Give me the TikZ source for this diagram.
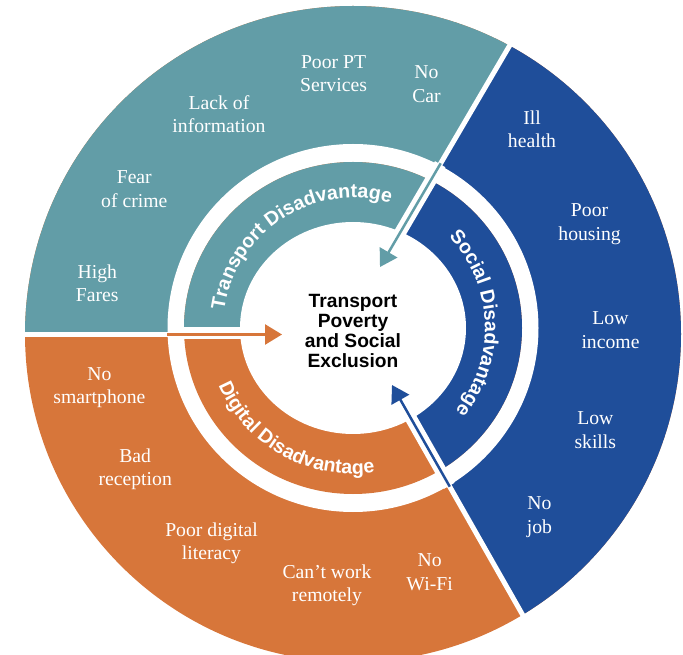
\documentclass[tikz,border=0pt]{standalone}
\usepackage{fontspec}
\setmainfont{Liberation Serif}
\setsansfont{Liberation Sans}
\usetikzlibrary{arrows.meta,decorations.text}
\definecolor{tealc}{RGB}{98,157,167}
\definecolor{bluec}{RGB}{31,78,154}
\definecolor{orangec}{RGB}{215,118,58}
\newcommand{\bandfont}{\sffamily\bfseries\fontsize{19.6}{19.6}\selectfont}
\tikzset{
  lbl/.style={text=white, font=\fontsize{19.7}{23.6}\selectfont, align=center, inner sep=0pt},
  sepline/.style={white, line width=5pt},
  gapline/.style={white, line width=12pt},
  arr/.style={line width=2.5pt, -{Triangle[length=17pt,width=20pt]}},
  bandtext/.style={decorate, decoration={text along path, text={|\bandfont|#1}, text align=center, text color=white}},
}
\begin{document}
\begin{tikzpicture}[x=1pt,y=1pt]
\useasboundingbox (0,0) rectangle (683,654);
\clip (0,0) rectangle (683,654);
\coordinate (O) at (353,320);
\coordinate (C) at (353,326);
% outer ring
\begin{scope}
  \clip (O) circle[radius=328];
  \fill[orangec] (O) circle[radius=330];
  \fill[tealc] (-20,319.5) -- (-20,700) -- (563,700) -- (340.5,319.5) -- cycle;
  \fill[bluec] (352,339) -- (563,700) -- (720,700) -- (720,-60) -- (579,-60) -- cycle;
\end{scope}
\fill[white] (C) ellipse[x radius=185.5, y radius=184];
% inner band
\begin{scope}
  \clip (C) ellipse[x radius=169, y radius=166];
  \fill[orangec] (C) circle[radius=172];
  \fill[tealc] (-20,319.5) -- (-20,700) -- (563,700) -- (340.5,319.5) -- cycle;
  \fill[bluec] (352,339) -- (563,700) -- (720,700) -- (720,-60) -- (579,-60) -- cycle;
\end{scope}
\fill[white] (C) ellipse[x radius=113, y radius=106];
% separators
\coordinate (s0a) at (-10,319.5);
\coordinate (s0b) at (170,319.5);
\coordinate (s1a) at (439.7,489.0);
\coordinate (s1b) at (541.9,663.5);
\coordinate (s2a) at (448.8,169.0);
\coordinate (s2b) at (555.0,-17.8);
\draw[sepline] (s0a) -- (s0b);
\draw[sepline] (s1a) -- (s1b);
\draw[sepline] (s2a) -- (s2b);
\coordinate (g0a) at (168,321);
\coordinate (g0b) at (290,321);
\coordinate (g1a) at (440.2,489.8);
\coordinate (g1b) at (380,387);
\coordinate (g2a) at (449.3,168.2);
\coordinate (g2b) at (392,269);
\draw[gapline] (g0a) -- (g0b);
\draw[gapline] (g1a) -- (g1b);
\draw[gapline] (g2a) -- (g2b);
% arrows
\coordinate (a0s) at (167,319.5);
\coordinate (a0e) at (282,319.5);
\coordinate (a1s) at (440.7,490.7);
\coordinate (a1e) at (380,387);
\coordinate (a2s) at (449.8,167.3);
\coordinate (a2e) at (392,269);
\draw[arr, orangec] (a0s) -- (a0e);
\draw[arr, tealc] (a1s) -- (a1e);
\draw[arr, bluec] (a2s) -- (a2e);
% band texts
\path[bandtext={Transport Disadvantage}] (C) ++(177.7:130) arc[start angle=177.7, end angle=67.7, radius=130];
\path[bandtext={Social Disadvantage}] (C) ++(57.2:132) arc[start angle=57.2, end angle=-52.8, radius=132];
\path[bandtext={Digital Disadvantage}] (C) ++(185.8:146) arc[start angle=185.8, end angle=295.8, radius=146];
% centre
\node[font=\sffamily\bfseries\fontsize{19.2}{19.7}\selectfont, align=center, inner sep=0pt] (core) at (353,323) {Transport\\Poverty\\and Social\\Exclusion};
% outer labels
\node[lbl] (poorpt) at (333.6,580.3) {Poor PT\\Services};
\node[lbl] (nocar) at (426.5,569.9) {No\\Car};
\node[lbl] (lack) at (219,539.8) {Lack of\\information};
\node[lbl] (fear) at (134.3,465) {Fear\\of crime};
\node[lbl] (high) at (97.3,370.7) {High\\Fares};
\node[lbl] (ill) at (532,524.6) {Ill\\health};
\node[lbl] (poorh) at (589.6,430) {Poor\\housing};
\node[lbl] (lowinc) at (610.5,323.7) {Low\\income};
\node[lbl] (lowsk) at (595.3,223.9) {Low\\skills};
\node[lbl] (nojob) at (539.5,137.1) {No\\job};
\node[lbl] (nosmart) at (99.4,266.3) {No\\smartphone};
\node[lbl] (bad) at (135.2,184.9) {Bad\\reception};
\node[lbl] (poordig) at (211.5,110.8) {Poor digital\\literacy};
\node[lbl] (cant) at (327,68.8) {Can’t work\\remotely};
\node[lbl] (nowifi) at (429.6,82) {No\\Wi-Fi};
\end{tikzpicture}
\end{document}
